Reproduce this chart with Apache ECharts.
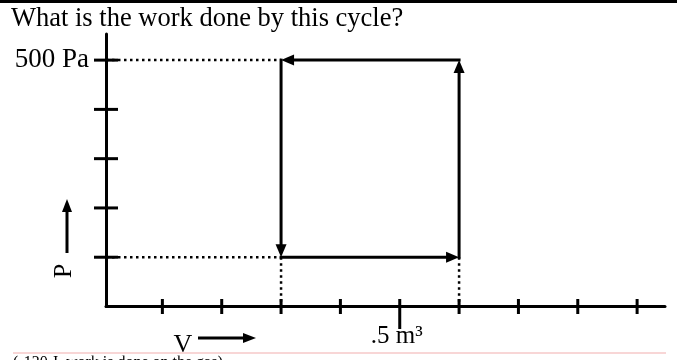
<!DOCTYPE html>
<html>
<head>
<meta charset="utf-8">
<script src="https://cdn.jsdelivr.net/npm/echarts@6/dist/echarts.min.js"></script>
<style>
html,body{margin:0;padding:0;background:#fff;}
#chart{width:677px;height:360px;}
</style>
</head>
<body>
<div id="chart"></div>
<script>
// ---- data ----
const titleText = 'What is the work done by this cycle?';
const pressureTicks = [100, 200, 300, 400, 500];      // Pa
const pressureLabelValue = 500;
const pressureLabelText = '500 Pa';
const volumeTicks = [0.1, 0.2, 0.3, 0.4, 0.6, 0.7, 0.8, 0.9]; // m^3
const volumeMajorTick = 0.5;
const volumeMajorLabel = '.5 m³';
const cycleV = [0.3, 0.6, 0.6, 0.3];   // cycle corners (volume)
const cycleP = [100, 100, 500, 500];   // cycle corners (pressure)
const answerText = '(-120 J, work is done on the gas)';

// axis ranges
const V_MIN = 0.005, V_MAX = 0.947;
const P_MIN = 0, P_MAX = 553;

const FONT = '"Liberation Serif", "Times New Roman", serif';
const BLACK = '#000';

// guide (dotted) lines from cycle corners to the axes
const guides = [
  [[V_MIN, cycleP[2]], [cycleV[3], cycleP[3]]],
  [[V_MIN, cycleP[0]], [cycleV[0], cycleP[0]]],
  [[cycleV[0], cycleP[0]], [cycleV[0], P_MIN]],
  [[cycleV[1], cycleP[1]], [cycleV[1], P_MIN]]
];

const chart = echarts.init(document.getElementById('chart'), null, {renderer: 'canvas'});

function cycleRender(params, api) {
  const n = cycleV.length;
  const i = params.dataIndex, j = (i + 1) % n;
  const a = api.coord([cycleV[i], cycleP[i]]);
  const b = api.coord([cycleV[j], cycleP[j]]);
  const dx = b[0] - a[0], dy = b[1] - a[1];
  const L = Math.hypot(dx, dy), ux = dx / L, uy = dy / L;
  const hl = 13, hw = 5.5;
  const base = [b[0] - ux * hl, b[1] - uy * hl];
  const p1 = [base[0] - uy * hw, base[1] + ux * hw];
  const p2 = [base[0] + uy * hw, base[1] - ux * hw];
  return {
    type: 'group',
    children: [
      {type: 'line', shape: {x1: a[0], y1: a[1], x2: base[0] + ux * 2, y2: base[1] + uy * 2},
       style: {stroke: BLACK, lineWidth: 3, lineCap: 'square'}},
      {type: 'polygon', shape: {points: [b, p1, p2]}, style: {fill: BLACK}}
    ]
  };
}

const series = [];
guides.forEach(g => {
  series.push({
    type: 'line', data: g, showSymbol: false, silent: true, z: 1,
    lineStyle: {color: BLACK, width: 2.5, type: [2.5, 3.5], cap: 'butt'}
  });
});
series.push({
  type: 'custom', renderItem: cycleRender, z: 3,
  data: cycleV.map((v, i) => [v, cycleP[i]]),
  encode: {x: 0, y: 1}
});
series.push({
  type: 'scatter', clip: false, z: 4, silent: true,
  symbol: 'rect', symbolSize: [3, 15],
  itemStyle: {color: BLACK, opacity: 1},
  data: volumeTicks.map(v => [v, P_MIN]).concat([{
    value: [volumeMajorTick, P_MIN], symbolSize: [3, 30], symbolOffset: [0, 7.5]
  }])
});
series.push({
  type: 'scatter', clip: false, z: 4, silent: true,
  symbol: 'rect', symbolSize: [24, 3],
  itemStyle: {color: BLACK, opacity: 1},
  data: pressureTicks.map(p => [V_MIN, p])
});
series.push({
  type: 'scatter', clip: false, z: 4, silent: true,
  symbolSize: 0,
  itemStyle: {color: BLACK, opacity: 1},
  data: [[volumeMajorTick, P_MIN]],
  label: {show: true, position: 'bottom', distance: 17, offset: [-3, 0],
          formatter: volumeMajorLabel, color: BLACK, opacity: 1, fontFamily: FONT, fontSize: 25}
});

const option = {
  animation: false,
  backgroundColor: '#fff',
  title: {
    text: titleText, left: 6, top: 1,
    textStyle: {color: BLACK, fontFamily: FONT, fontSize: 26.5, fontWeight: 'normal'}
  },
  grid: {left: 106, right: 12, top: 34, bottom: 53.5, containLabel: false},
  xAxis: {
    type: 'value', min: V_MIN, max: V_MAX,
    axisLine: {show: true, onZero: false, lineStyle: {color: BLACK, width: 3}},
    axisTick: {show: false}, axisLabel: {show: false}, splitLine: {show: false}
  },
  yAxis: {
    type: 'value', min: P_MIN, max: P_MAX, interval: 100,
    axisLine: {show: true, onZero: false, lineStyle: {color: BLACK, width: 3}},
    axisTick: {show: false}, splitLine: {show: false},
    axisLabel: {
      show: true, margin: 17, color: BLACK, fontFamily: FONT, fontSize: 27,
      formatter: v => (v === pressureLabelValue ? pressureLabelText : '')
    }
  },
  graphic: [
    {type: 'rect', shape: {x: 0, y: 0, width: 677, height: 3}, style: {fill: BLACK}},
    // P label with up arrow
    {type: 'text', x: 64, y: 271, rotation: Math.PI / 2,
     style: {text: 'P', font: '26px ' + FONT, fill: BLACK, align: 'center', verticalAlign: 'middle'}},
    {type: 'line', shape: {x1: 67, y1: 253, x2: 67, y2: 210}, style: {stroke: BLACK, lineWidth: 3}},
    {type: 'polygon', shape: {points: [[67, 199], [62, 212], [72, 212]]}, style: {fill: BLACK}},
    // V label with right arrow
    {type: 'text', x: 183, y: 345,
     style: {text: 'V', font: '26px ' + FONT, fill: BLACK, align: 'center', verticalAlign: 'middle'}},
    {type: 'line', shape: {x1: 198, y1: 338, x2: 245, y2: 338}, style: {stroke: BLACK, lineWidth: 3}},
    {type: 'polygon', shape: {points: [[256, 338], [243, 333], [243, 343]]}, style: {fill: BLACK}},
    // separator and cut-off answer
    {type: 'text', x: 13, y: 355,
     style: {text: answerText, font: '16px ' + FONT, fill: BLACK, align: 'left', verticalAlign: 'top'}},
    {type: 'rect', shape: {x: 0, y: 352, width: 677, height: 3.5}, style: {fill: '#fff'}},
    {type: 'line', shape: {x1: 13, y1: 353, x2: 666, y2: 353}, style: {stroke: '#f6c9c9', lineWidth: 1.5}}
  ],
  series: series
};
chart.setOption(option);
</script>
</body>
</html>
